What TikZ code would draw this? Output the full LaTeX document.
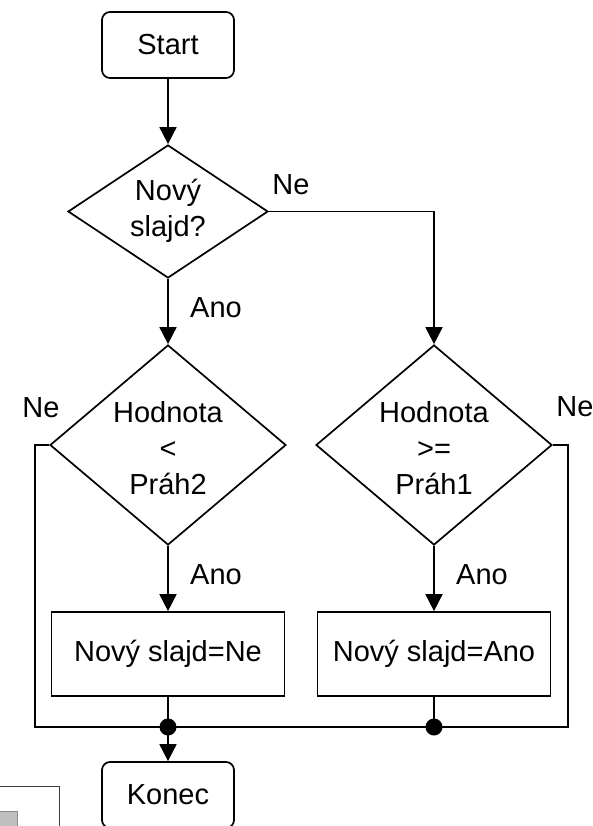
\documentclass[tikz,border=0pt]{standalone}
\usepackage{fontspec}
\setmainfont{Liberation Sans}
\usetikzlibrary{shapes.geometric,arrows.meta}
\begin{document}
\begin{tikzpicture}[x=1pt,y=-1pt,line width=1.7pt,
  font=\fontsize{29}{36}\selectfont,
  term/.style={draw,rounded corners=8pt,minimum width=132pt,minimum height=66pt,inner sep=0pt},
  proc/.style={draw,minimum width=233pt,minimum height=84pt,inner sep=0pt},
  dia/.style={draw,diamond,inner sep=0pt},
  txt/.style={inner sep=0pt,align=center},
  arr/.style={-{Triangle[width=17pt,length=17pt]}},
  dotnode/.style={circle,fill,inner sep=0pt,minimum size=17pt}]
\clip (0,0) rectangle (593,826);
\fill[white] (0,0) rectangle (593,826);
% nodes
\node[term] (start) at (168,45) {Start};
\node[dia,minimum width=200pt,minimum height=133pt] (d1) at (168,211.5) {};
\node[txt] (d1t) at (168,211) {Nový\\slajd?};
\node[dia,minimum width=236pt,minimum height=200pt] (d2) at (168,445) {};
\node[txt] (d2t) at (168,448) {Hodnota\\<\\Práh2};
\node[dia,minimum width=236pt,minimum height=200pt] (d3) at (434,445) {};
\node[txt] (d3t) at (434,448) {Hodnota\\>=\\Práh1};
\node[proc] (b1) at (168,654) {Nový slajd=Ne};
\node[proc] (b2) at (434,654) {Nový slajd=Ano};
\node[term] (konec) at (168,795) {Konec};
\node[dotnode] (j1) at (168,727) {};
\node[dotnode] (j2) at (434,727) {};
% corner coordinates
\coordinate (c1) at (434,211.5);
\coordinate (cl) at (35,445);
\coordinate (cld) at (35,727);
\coordinate (cr) at (568,445);
\coordinate (crd) at (568,727);
% labels
\node[txt] (lne1) at (291,185) {Ne};
\node[txt] (lano1) at (216,308) {Ano};
\node[txt] (lne2) at (41,408) {Ne};
\node[txt] (lne3) at (575,407) {Ne};
\node[txt] (lano2) at (216,575) {Ano};
\node[txt] (lano3) at (482,575) {Ano};
% connectors
\draw[arr] (start.south) -- (d1.north);
\draw[arr] (d1.south) -- (d2.north);
\draw[arr] (d1.east) -- (c1) -- (d3.north);
\draw[arr] (d2.south) -- (b1.north);
\draw[arr] (d3.south) -- (b2.north);
\draw (d2.west) -- (cl) -- (cld) -- (crd) -- (cr) -- (d3.east);
\draw (b1.south) -- (j1.center);
\draw (b2.south) -- (j2.center);
\draw[arr] (j1.center) -- (konec.north);
% clipped fragment at bottom left
\draw[line width=1pt,black!75] (-5,786) rectangle (59,840);
\draw[line width=0.8pt,black!45,fill=black!25] (-5,811) rectangle (17,840);
\end{tikzpicture}
\end{document}
